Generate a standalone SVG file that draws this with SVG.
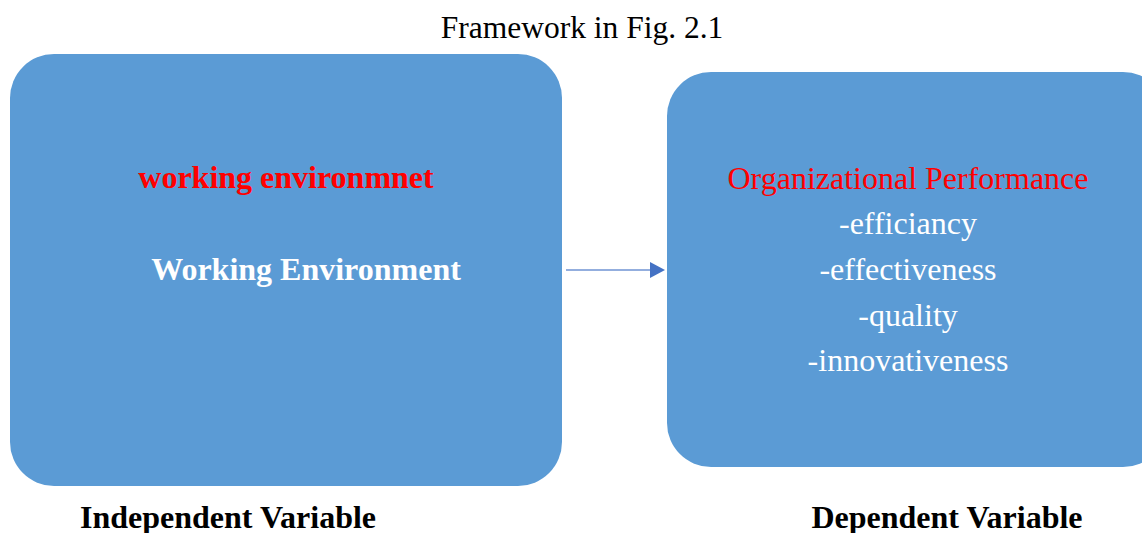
<svg xmlns="http://www.w3.org/2000/svg" width="1142" height="533" viewBox="0 0 1142 533">
<defs>
<style>
.box{fill:#5B9BD5;}
.t{font-family:"Liberation Serif","Times New Roman",serif;text-anchor:middle;font-size:32px;}
.b{font-weight:bold;}
.w{fill:#ffffff;}
.r{fill:#ff0000;}
.k{fill:#000000;}
</style>
</defs>
<rect width="1142" height="533" fill="#ffffff"/>
<text class="t k" x="582" y="38" style="font-size:31.5px">Framework in Fig. 2.1</text>
<g id="node-independent">
<rect class="box" x="10" y="54" width="552" height="432" rx="44" ry="44"/>
<text class="t b r" x="286" y="188">working environmnet</text>
<text class="t b w" x="306" y="280">Working Environment</text>
</g>
<g id="node-dependent">
<rect class="box" x="667" y="72" width="500" height="395" rx="44" ry="44"/>
<text class="t r" x="908" y="189">Organizational Performance</text>
<text class="t w" x="908" y="234">-efficiancy</text>
<text class="t w" x="908" y="280">-effectiveness</text>
<text class="t w" x="908" y="326">-quality</text>
<text class="t w" x="908" y="371">-innovativeness</text>
</g>
<g id="connectors">
<line x1="566" y1="270" x2="652" y2="270" stroke="#6F93D3" stroke-width="1.5"/>
<path d="M650,262 L665,270 L650,278 Z" fill="#4472C4"/>
</g>
<g id="labels">
<text class="t b k" x="228" y="528">Independent Variable</text>
<text class="t b k" x="947" y="528">Dependent Variable</text>
</g>
</svg>
